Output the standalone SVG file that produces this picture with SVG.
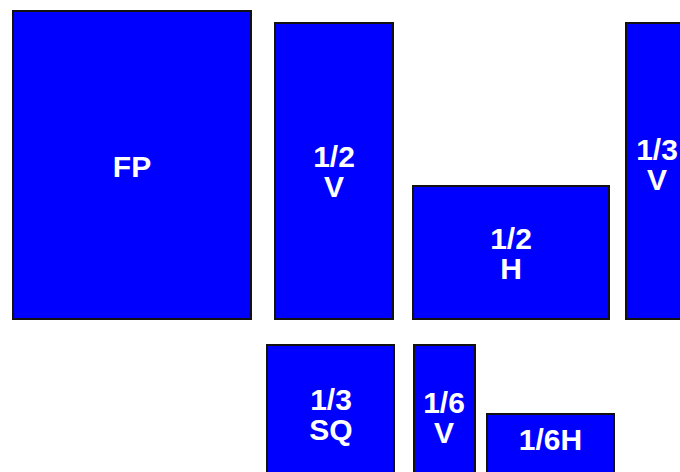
<svg xmlns="http://www.w3.org/2000/svg" width="680" height="472" viewBox="0 0 680 472">
<style>
.box{fill:#0000ff;stroke:#111;stroke-width:2}
.lbl{fill:#fff;font-family:"Liberation Sans",Arial,Helvetica,sans-serif;font-weight:bold;font-size:30px;text-anchor:middle}
</style>
<rect width="680" height="472" fill="#fff"/>
<g id="fp"><rect class="box" x="13" y="11" width="238" height="308"/><text class="lbl" x="132" y="177">FP</text></g>
<g id="half-v"><rect class="box" x="275" y="23" width="118" height="296"/><text class="lbl" x="334" y="167">1/2</text><text class="lbl" x="334" y="197">V</text></g>
<g id="half-h"><rect class="box" x="413" y="186" width="196" height="133"/><text class="lbl" x="511" y="249">1/2</text><text class="lbl" x="511" y="279">H</text></g>
<g id="third-v"><rect class="box" x="626" y="23" width="62" height="296"/><text class="lbl" x="657" y="160">1/3</text><text class="lbl" x="657" y="190">V</text></g>
<g id="third-sq"><rect class="box" x="267" y="345" width="127" height="140"/><text class="lbl" x="331" y="410">1/3</text><text class="lbl" x="331" y="440">SQ</text></g>
<g id="sixth-v"><rect class="box" x="414" y="345" width="61" height="140"/><text class="lbl" x="444" y="413">1/6</text><text class="lbl" x="444" y="443">V</text></g>
<g id="sixth-h"><rect class="box" x="487" y="414" width="127" height="70"/><text class="lbl" x="550.5" y="450">1/6H</text></g>
<g id="connectors"/>
</svg>
